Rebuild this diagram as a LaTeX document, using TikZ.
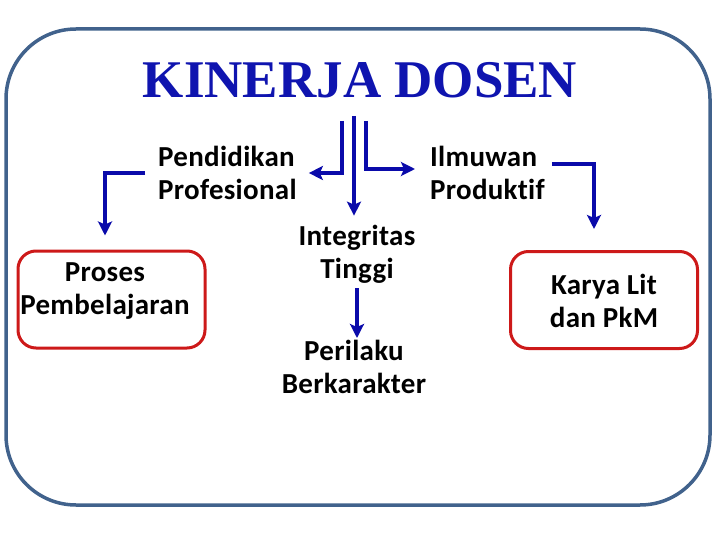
\documentclass[tikz,border=0pt]{standalone}
\usepackage{fontspec}
\setmainfont{Carlito}[Ligatures=NoCommon, LetterSpace=1]
\newfontfamily\titlefont{Liberation Serif}
\usetikzlibrary{arrows.meta}
\definecolor{frameblue}{RGB}{65,98,140}
\definecolor{arrblue}{RGB}{10,10,170}
\definecolor{titleblue}{RGB}{15,20,175}
\definecolor{boxred}{RGB}{205,25,25}
\begin{document}
\begin{tikzpicture}[x=1pt,y=-1pt,
  lbl/.style={font=\bfseries\fontsize{29}{33}\selectfont, align=center, inner sep=0pt},
  arr/.style={draw=arrblue, line width=3.5pt, -{Stealth[length=14pt,width=14pt,inset=3pt]}},
  redbox/.style={draw=boxred, line width=3pt, rounded corners=18pt, minimum width=187pt, minimum height=97pt}]
\useasboundingbox (0,0) rectangle (720,540);
\draw[frameblue, line width=3.5pt, rounded corners=70pt] (6,29) rectangle (710,505);
\node[font=\titlefont\bfseries\fontsize{53}{53}\selectfont, text=titleblue, inner sep=0pt] (title) at (360,80) {KINERJA DOSEN};
\node[lbl, anchor=west, align=left] (pend) at (158,173) {Pendidikan\\Profesional};
\node[lbl, anchor=west, align=left] (ilmu) at (430,173) {Ilmuwan\\Produktif};
\node[lbl] (integ) at (357,254) {Integritas\\Tinggi};
\node[lbl] (peril) at (354,367) {Perilaku\\Berkarakter};
\node[redbox] (pbox) at (111.5,299.5) {};
\node[lbl] (proses) at (105,291) {Proses\\Pembelajaran};
\node[redbox] (kbox) at (604,300) {};
\node[lbl] (karya) at (604,301) {Karya Lit\\dan PkM};
\coordinate (tl) at (342,121);
\coordinate (tc) at (354,116);
\coordinate (tr) at (366,121);
\draw[arr] ([xshift=-13pt]pend.west) -| ([xshift=-6.5pt,yshift=14pt]pbox.north);
\draw[arr] ([xshift=7pt,yshift=9pt]ilmu.east) -| ([xshift=-10pt,yshift=21pt]kbox.north);
\draw[arr] (tl) |- ([xshift=12pt]pend.east);
\draw[arr] (tr) |- ([xshift=-15pt,yshift=4pt]ilmu.west);
\draw[arr] (tc) -- ([yshift=9pt]tc |- integ.north);
\draw[arr] ([yshift=-5pt]integ.south) -- ([yshift=2pt]integ.south |- peril.north);
\end{tikzpicture}
\end{document}
